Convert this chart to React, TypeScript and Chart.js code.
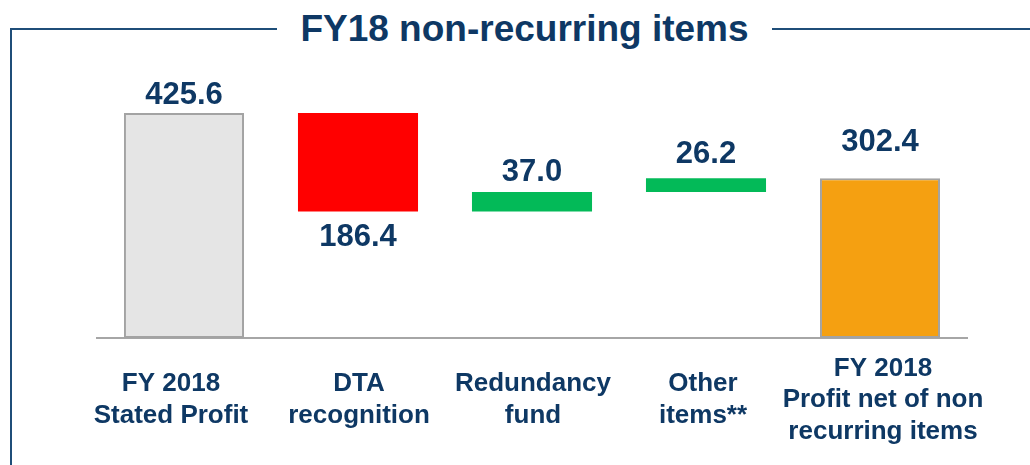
import React, { useEffect, useRef } from "react";
import { Chart, registerables } from "chart.js";

Chart.register(...registerables);

// ---- data ----
const categories: string[][] = [
  ["FY 2018", "Stated Profit"],
  ["DTA", "recognition"],
  ["Redundancy", "fund"],
  ["Other", "items**"],
  ["FY 2018", "Profit net of non", "recurring items"],
];
const amounts: number[] = [425.6, -186.4, 37.0, 26.2, 302.4];
const kinds: string[] = ["total", "delta", "delta", "delta", "total"];
const valueLabels: string[] = ["425.6", "186.4", "37.0", "26.2", "302.4"];
const titleText = "FY18 non-recurring items";

// ---- styles ----
const NAVY = "#0E3864";
const FRAME = "#1F4E79";
const FONT = '"Liberation Sans", Arial, Helvetica, sans-serif';
const fillColors = ["#E5E5E5", "#FF0000", "#03BA58", "#03BA58", "#F5A011"];
const borderColors = ["#A3A3A3", "#FF0000", "#03BA58", "#03BA58", "#A3A3A3"];
const borderWidths = [2, 0, 0, 0, 2];
// vertical offset of each value label centre from its bar edge (px)
const valueLabelGap = [18, 25.5, 20, 24, 36];
const categoryLabelDx = [-13, 1, 1, -3, 3];

function buildRanges(): [number, number][] {
  const out: [number, number][] = [];
  let running = 0;
  amounts.forEach((v, i) => {
    if (kinds[i] === "total") {
      out.push([0, v]);
      running = v;
    } else {
      const a = running;
      const b = running + v;
      out.push([Math.min(a, b), Math.max(a, b)]);
      running = b;
    }
  });
  return out;
}

const labelsPlugin = {
  id: "waterfallLabels",
  afterDraw(chart: any) {
    const ctx = chart.ctx;
    const meta = chart.getDatasetMeta(0);
    const xScale = chart.scales.x;
    ctx.save();
    ctx.fillStyle = NAVY;
    ctx.textAlign = "center";
    ctx.textBaseline = "middle";
    // value labels
    ctx.font = `bold 31px ${FONT}`;
    meta.data.forEach((bar: any, i: number) => {
      const top = Math.min(bar.y, bar.base);
      const bottom = Math.max(bar.y, bar.base);
      const y = amounts[i] < 0 ? bottom + valueLabelGap[i] : top - valueLabelGap[i];
      ctx.fillText(valueLabels[i], bar.x, y);
    });
    // category labels
    ctx.font = `bold 26px ${FONT}`;
    const lineH = 31.5;
    const centerY = chart.chartArea.bottom + 62;
    categories.forEach((lines, i) => {
      const x = xScale.getPixelForValue(i) + categoryLabelDx[i];
      const startY = centerY - ((lines.length - 1) * lineH) / 2;
      lines.forEach((ln, j) => ctx.fillText(ln, x, startY + j * lineH));
    });
    ctx.restore();
  },
};

export default function App() {
  const ref = useRef<HTMLCanvasElement | null>(null);

  useEffect(() => {
    if (!ref.current) return;
    const chart = new Chart(ref.current, {
      type: "bar",
      data: {
        labels: categories.map((c) => c.join(" ")),
        datasets: [
          {
            data: buildRanges() as any,
            backgroundColor: fillColors,
            borderColor: borderColors,
            borderWidth: borderWidths,
            borderSkipped: false,
            barPercentage: 0.69,
            categoryPercentage: 1,
          },
        ],
      },
      options: {
        animation: false,
        responsive: false,
        maintainAspectRatio: false,
        layout: { padding: { left: 97, right: 63, top: 73.7, bottom: 127 } },
        plugins: {
          legend: { display: false },
          tooltip: { enabled: false },
          title: { display: false },
        },
        scales: {
          x: {
            grid: { display: false, drawTicks: false },
            ticks: { display: false },
            border: { display: true, color: "#A6A6A6", width: 2 },
          },
          y: {
            display: false,
            min: 0,
            max: 500,
          },
        },
      },
      plugins: [labelsPlugin],
    });
    return () => chart.destroy();
  }, []);

  return (
    <div
      style={{
        position: "absolute",
        left: 0,
        top: 0,
        width: 1030,
        height: 465,
        background: "#fff",
        overflow: "hidden",
      }}
    >
      <div style={{ position: "absolute", left: 10, top: 28, width: 2, height: 437, background: FRAME }} />
      <div style={{ position: "absolute", left: 10, top: 28, width: 267, height: 2, background: FRAME }} />
      <div style={{ position: "absolute", left: 772, top: 28, width: 258, height: 2, background: FRAME }} />
      <div
        style={{
          position: "absolute",
          left: 524.5,
          top: 10,
          transform: "translateX(-50%)",
          whiteSpace: "nowrap",
          font: `bold 37px ${FONT}`,
          lineHeight: "37px",
          color: NAVY,
        }}
      >
        {titleText}
      </div>
      <canvas
        ref={ref}
        width={1030}
        height={465}
        style={{ position: "absolute", left: 0, top: 0, width: 1030, height: 465 }}
      />
    </div>
  );
}
